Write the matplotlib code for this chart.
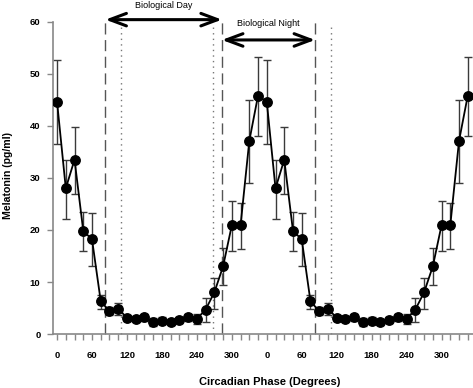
import numpy as np
import matplotlib
matplotlib.use('Agg')
import matplotlib.pyplot as plt

plt.rcParams['font.family'] = ['Liberation Sans', 'DejaVu Sans']

# one circadian cycle, double plotted
phase = [0, 15, 30, 45, 60, 75, 90, 105, 120, 135, 150, 165,
         180, 195, 210, 225, 240, 255, 270, 285, 300, 315, 330, 345]
melatonin = [44.6, 28.0, 33.5, 19.8, 18.2, 6.3, 4.4, 4.9, 3.1, 2.9, 3.2, 2.3,
             2.6, 2.3, 2.7, 3.2, 2.9, 4.7, 8.0, 13.0, 20.9, 20.9, 37.1, 45.8]
err_hi = [52.7, 33.5, 39.8, 23.4, 23.2, 7.6, 5.2, 6.0, 3.6, 3.5, 3.8, 3.0,
          3.2, 2.8, 3.3, 3.8, 3.9, 6.9, 10.8, 16.5, 25.6, 25.2, 45.0, 53.3]
err_lo = [36.5, 22.1, 26.9, 16.0, 13.1, 4.8, 3.6, 3.6, 2.6, 2.3, 2.6, 1.6,
          2.0, 1.8, 2.1, 2.6, 2.0, 2.3, 4.9, 9.5, 16.0, 16.3, 29.0, 38.0]
tick_labels = ['0', '60', '120', '180', '240', '300']

# day / night markers (degrees, on the double-plotted axis)
dashed_at = [83, 283, 443]
dotted_at = [109, 267, 470]

x = np.array(phase + [p + 360 for p in phase])
y = np.array(melatonin + melatonin)
hi = np.array(err_hi + err_hi)
lo = np.array(err_lo + err_lo)

fig = plt.figure(figsize=(4.73, 3.88), dpi=100)
ax = fig.add_axes([0.112, 0.139, 0.888, 0.805])

ax.errorbar(x, y, yerr=[y - lo, hi - y], fmt='none', ecolor='#3a3a3a',
            elinewidth=1.0, capsize=3.2, capthick=1.0, zorder=2)
ax.plot(x, y, '-o', color='black', lw=1.3, ms=6.8, zorder=3)

for d in dashed_at:
    ax.plot([d, d], [0, 60.5], color='#555555', lw=1.0, ls=(0, (8, 4)),
            clip_on=False, zorder=1)
for d in dotted_at:
    ax.plot([d, d], [0, 59.5], color='#777777', lw=1.0, ls=(0, (1, 3)),
            clip_on=False, zorder=1)

ax.annotate('', xy=(83, 60.4), xytext=(283, 60.4),
            arrowprops=dict(arrowstyle='<->,head_length=1.2,head_width=0.45',
                            lw=2.2, color='black', shrinkA=0, shrinkB=0),
            annotation_clip=False)
ax.text(183, 63.2, 'Biological Day', ha='center', va='center', fontsize=6.5)
ax.annotate('', xy=(283, 56.5), xytext=(443, 56.5),
            arrowprops=dict(arrowstyle='<->,head_length=1.2,head_width=0.45',
                            lw=2.2, color='black', shrinkA=0, shrinkB=0),
            annotation_clip=False)
ax.text(363, 59.6, 'Biological Night', ha='center', va='center', fontsize=6.5)

ax.set_xlim(-7, 714)
ax.set_ylim(0, 60)
ax.set_yticks([0, 10, 20, 30, 40, 50, 60])
ax.set_xticks(np.arange(0, 706, 15))
ax.set_xticklabels([tick_labels[(int(t) % 360) // 60] if t % 60 == 0 else ''
                    for t in np.arange(0, 706, 15)])

for s in ['top', 'right']:
    ax.spines[s].set_visible(False)
for s in ['left', 'bottom']:
    ax.spines[s].set_color('#888888')
    ax.spines[s].set_linewidth(1.2)
ax.tick_params(axis='both', colors='#888888', length=4, width=1.0,
               labelcolor='black', labelsize=6.8)
ax.tick_params(axis='x', pad=8)
ax.tick_params(axis='y', pad=5)
for lab in ax.get_xticklabels() + ax.get_yticklabels():
    lab.set_fontweight('bold')

fig.text(270 / 473, 1 - 382 / 388, 'Circadian Phase (Degrees)', ha='center',
         va='center', fontsize=8, fontweight='bold')
fig.text(8 / 473, 1 - 176 / 388, 'Melatonin (pg/ml)', ha='center',
         va='center', rotation=90, fontsize=7.6, fontweight='bold')

fig.savefig('out.png', dpi=100)
